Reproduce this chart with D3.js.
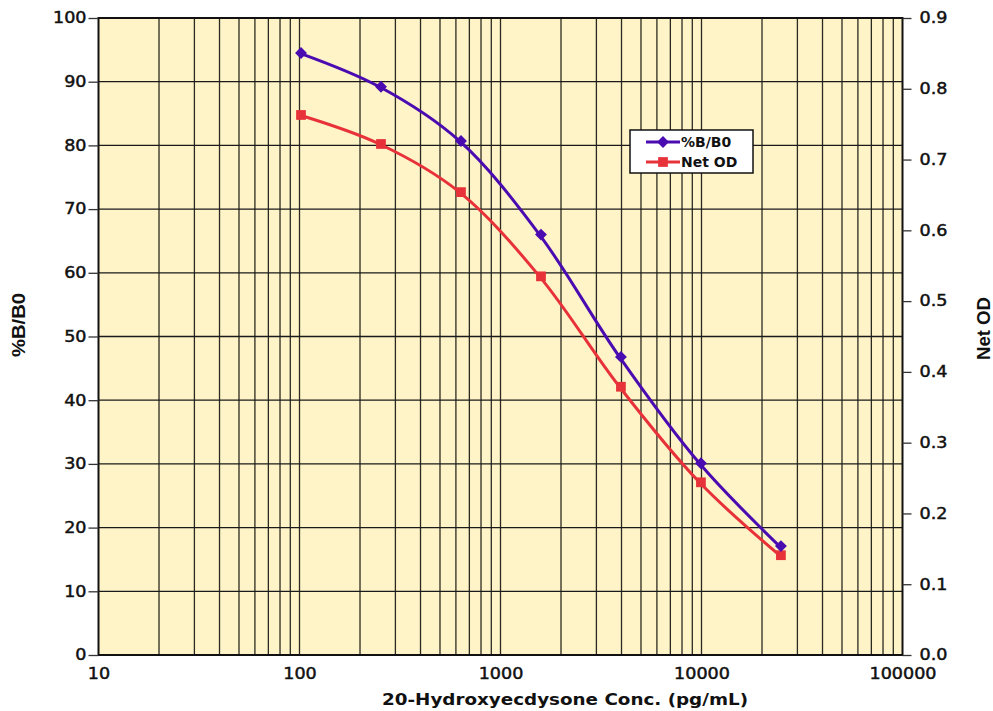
<!DOCTYPE html>
<html>
<head>
<meta charset="utf-8">
<script src="https://cdn.jsdelivr.net/npm/d3@7"></script>
<style>
  body { margin: 0; background: #fff; }
  svg { display: block; }
  .tick-label { font-family: "DejaVu Sans", sans-serif; font-size: 15px; fill: #111; stroke: #111; stroke-width: 0.45px; }
  .title { font-family: "Liberation Sans", Arial, sans-serif; font-weight: bold; font-size: 18px; fill: #111; }
</style>
</head>
<body>
<div id="chart"></div>
<script>
const width = 993;
const height = 711;
const margin = {top: 18, bottom: 56, left: 98.5, right: 90.5};

// data
const conc = [100, 250, 625, 1563, 3906, 9766, 24414];
const bb0 = [94.5, 89.2, 80.7, 66.0, 46.8, 30.1, 17.1];
const netOD = [0.763, 0.722, 0.654, 0.535, 0.379, 0.244, 0.141];
const xTicks = [10, 100, 1000, 10000, 100000];
const yLeftTicks = d3.range(0, 101, 10);
const yRightTicks = d3.range(0, 0.91, 0.1);

// widen glyphs a bit, the original font is much wider than what we have
function stretch(sel, k) {
    sel.each(function() {
        const w = this.getComputedTextLength();
        d3.select(this).attr('textLength', w * k).attr('lengthAdjust', 'spacingAndGlyphs');
    });
}

const svg = d3.select('#chart')
    .append('svg')
    .attr('width', width)
    .attr('height', height);

const x = d3.scaleLog()
    .domain([10, 100000])
    .range([margin.left, width - margin.right]);

const y = d3.scaleLinear()
    .domain([0, 100])
    .range([height - margin.bottom, margin.top]);

const y2 = d3.scaleLinear()
    .domain([0, 0.9])
    .range([height - margin.bottom, margin.top]);

// plot background
svg.append('rect')
    .attr('x', x(10))
    .attr('y', y(100))
    .attr('width', x(100000) - x(10))
    .attr('height', y(0) - y(100))
    .attr('fill', '#fff3c8');

// vertical grid: every 1..9 within each decade
const minor = [];
for (let p = 10; p < 100000; p *= 10) {
    for (let k = 1; k < 10; k++) minor.push(p * k);
}
svg.append('g')
    .selectAll('line')
    .data(minor.filter(v => v > 10))
    .enter()
    .append('line')
        .attr('x1', d => x(d)).attr('x2', d => x(d))
        .attr('y1', y(0)).attr('y2', y(100))
        .attr('stroke', '#2a2a20')
        .attr('stroke-width', 1.3);

// horizontal grid
svg.append('g')
    .selectAll('line')
    .data(yLeftTicks.filter(d => d > 0 && d < 100))
    .enter()
    .append('line')
        .attr('x1', x(10)).attr('x2', x(100000))
        .attr('y1', d => y(d)).attr('y2', d => y(d))
        .attr('stroke', '#1a1a1a')
        .attr('stroke-width', 1.3);

// frame
svg.append('rect')
    .attr('x', x(10))
    .attr('y', y(100))
    .attr('width', x(100000) - x(10))
    .attr('height', y(0) - y(100))
    .attr('fill', 'none')
    .attr('stroke', '#111')
    .attr('stroke-width', 2);

function styleTicks(g) {
    g.select('.domain').remove();
    g.selectAll('line').attr('stroke', '#333').attr('stroke-width', 1.3);
    g.selectAll('text')
        .attr('class', 'tick-label')
        .attr('font-family', null)
        .attr('font-size', null)
        .call(stretch, 1.17);
}

// left axis
svg.append('g')
    .attr('transform', `translate(${x(10)},0)`)
    .call(d3.axisLeft(y).tickValues(yLeftTicks).tickSize(10).tickPadding(2))
    .call(styleTicks);

// right axis
svg.append('g')
    .attr('transform', `translate(${x(100000)},0)`)
    .call(d3.axisRight(y2).tickValues(yRightTicks).tickSize(9).tickPadding(8).tickFormat(d3.format('.1f')))
    .call(styleTicks);

// bottom axis labels
svg.append('g')
    .attr('transform', `translate(0,${y(0)})`)
    .call(d3.axisBottom(x).tickValues(xTicks).tickSize(0).tickPadding(13).tickFormat(d3.format('d')))
    .call(styleTicks);

// axis titles
svg.append('text')
    .attr('x', 565)
    .attr('y', 705)
    .attr('text-anchor', 'middle')
    .attr('font-family', '"DejaVu Sans", sans-serif')
    .attr('font-weight', 'bold')
    .attr('font-size', '16px')
    .attr('fill', '#111')
    .attr('textLength', 366)
    .attr('lengthAdjust', 'spacingAndGlyphs')
    .text('20-Hydroxyecdysone Conc. (pg/mL)');

svg.append('text')
    .attr('class', 'title')
    .attr('transform', 'translate(25,325) rotate(-90)')
    .attr('text-anchor', 'middle')
    .attr('textLength', 64)
    .attr('lengthAdjust', 'spacingAndGlyphs')
    .text('%B/B0');

svg.append('text')
    .attr('class', 'title')
    .attr('transform', 'translate(990,328.5) rotate(-90)')
    .attr('text-anchor', 'middle')
    .attr('textLength', 63)
    .attr('lengthAdjust', 'spacingAndGlyphs')
    .text('Net OD');

// series
const purple = '#4a0bb0';
const red = '#e8323a';
const lineL = d3.line().x((d, i) => x(conc[i])).y(d => y(d)).curve(d3.curveCatmullRom.alpha(0.5));
const lineR = d3.line().x((d, i) => x(conc[i])).y(d => y2(d)).curve(d3.curveCatmullRom.alpha(0.5));

svg.append('path')
    .datum(netOD)
    .attr('d', lineR)
    .attr('fill', 'none')
    .attr('stroke', red)
    .attr('stroke-width', 3);

svg.append('path')
    .datum(bb0)
    .attr('d', lineL)
    .attr('fill', 'none')
    .attr('stroke', purple)
    .attr('stroke-width', 3);

const diamond = d3.symbol().type(d3.symbolDiamond2).size(90);
const square = d3.symbol().type(d3.symbolSquare).size(95);

svg.append('g')
    .selectAll('path')
    .data(netOD)
    .enter()
    .append('path')
        .attr('d', square)
        .attr('transform', (d, i) => `translate(${x(conc[i]) + 1.5},${y2(d)})`)
        .attr('fill', red);

svg.append('g')
    .selectAll('path')
    .data(bb0)
    .enter()
    .append('path')
        .attr('d', diamond)
        .attr('transform', (d, i) => `translate(${x(conc[i]) + 1.5},${y(d)})`)
        .attr('fill', purple);

// legend
const legend = svg.append('g').attr('transform', 'translate(630,130)');
legend.append('rect')
    .attr('width', 123)
    .attr('height', 43)
    .attr('fill', '#fff')
    .attr('stroke', '#111')
    .attr('stroke-width', 1.5);

const items = [
    {name: '%B/B0', color: purple, sym: diamond},
    {name: 'Net OD', color: red, sym: square}
];
items.forEach((it, i) => {
    const cy = 12 + i * 20;
    legend.append('line')
        .attr('x1', 16).attr('x2', 50)
        .attr('y1', cy).attr('y2', cy)
        .attr('stroke', it.color)
        .attr('stroke-width', 3);
    legend.append('path')
        .attr('d', it.sym)
        .attr('transform', `translate(33,${cy})`)
        .attr('fill', it.color);
    legend.append('text')
        .attr('x', 51)
        .attr('y', cy + 5)
        .attr('font-family', '"DejaVu Sans", sans-serif')
        .attr('font-weight', 'bold')
        .attr('font-size', '14px')
        .attr('fill', '#111')
        .text(it.name);
});
</script>
</body>
</html>
